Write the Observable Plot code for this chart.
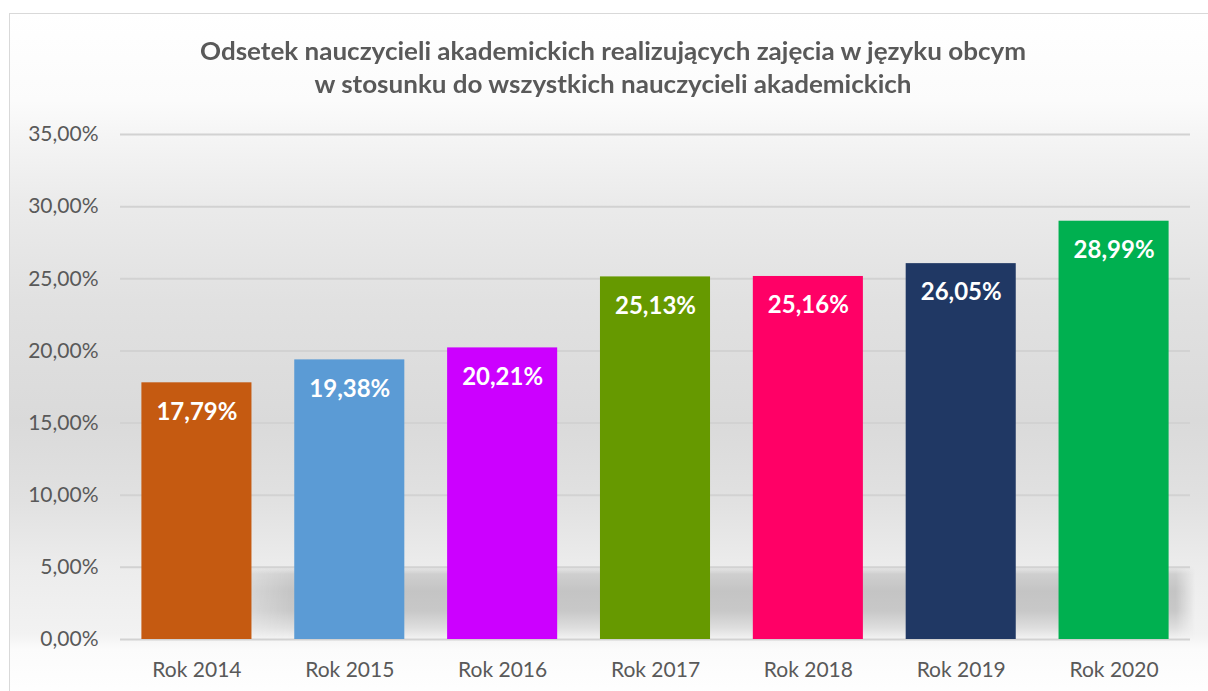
<!DOCTYPE html>
<html><head><meta charset="utf-8">
<script src="https://cdn.jsdelivr.net/npm/d3@7"></script>
<script src="https://cdn.jsdelivr.net/npm/@observablehq/plot@0.6"></script>
<style>
body{margin:0;background:#fff;}
#wrap{position:relative;width:1208px;height:691px;overflow:hidden;font-family:Lato,sans-serif;}
#bg{position:absolute;left:9px;top:13px;width:1230px;height:700px;border-left:1.5px solid #d9d9d9;border-top:1.5px solid #d9d9d9;
 background:linear-gradient(to bottom,#ffffff 0px,#fbfbfb 87px,#f5f5f5 121px,#ebebeb 187px,#e1e1e1 287px,#dadada 407px,#e1e1e1 487px,#ececec 552px,#f2f2f2 620px,#fbfbfb 635px,#ffffff 687px);}
#shadow{position:absolute;left:251px;top:566px;width:944px;height:73px;
 background:linear-gradient(to bottom,rgba(200,200,200,0) 0px,#cfcfcf 8px,#c4c4c4 25px,#c8c8c8 45px,#dedede 62px,#f3f3f3 73px);
 -webkit-mask-image:linear-gradient(to right,rgba(0,0,0,0.6) 0px,#000 40px,#000 925px,rgba(0,0,0,0) 944px);}
#title{position:absolute;left:0;top:34px;width:1226px;text-align:center;color:#595959;font-weight:bold;font-size:25px;line-height:33px;}
#title div{white-space:nowrap;}
#chart{position:absolute;left:0;top:0;}
</style></head>
<body>
<div id="wrap">
<div id="bg"></div>
<div id="shadow"></div>
<div id="title"></div>
<div id="chart"></div>
</div>
<script>
const titleLines = ["Odsetek nauczycieli akademickich realizujących zajęcia w języku obcym", "w stosunku do wszystkich nauczycieli akademickich"];
const years = ["Rok 2014","Rok 2015","Rok 2016","Rok 2017","Rok 2018","Rok 2019","Rok 2020"];
const values = [17.79, 19.38, 20.21, 25.13, 25.16, 26.05, 28.99];
const colors = ["#C55A11","#5B9BD5","#CC00FF","#669900","#FF0066","#203864","#00B050"];
const yTicks = [0,5,10,15,20,25,30,35];

const fmt = v => v.toFixed(2).replace(".", ",") + "%";
const data = years.map((y,i) => ({year: y, value: values[i], color: colors[i]}));

// title, fitted to the reference width
const tdiv = document.getElementById("title");
const ctx = document.createElement("canvas").getContext("2d");
ctx.font = "bold 25px Lato";
const sc = 827 / ctx.measureText(titleLines[0]).width;
titleLines.forEach(t => {
  const d = document.createElement("div");
  d.textContent = t;
  d.style.transform = `scaleX(${sc})`;
  tdiv.appendChild(d);
});

const chart = Plot.plot({
  width: 1208, height: 691,
  marginLeft: 120, marginRight: 18, marginTop: 134, marginBottom: 52,
  style: {background: "transparent", fontFamily: "Lato, sans-serif", color: "#595959"},
  x: {domain: years, paddingInner: 0.28, paddingOuter: 0.14, round: false, label: null},
  y: {domain: [0, 35], label: null},
  color: {type: "identity"},
  marks: [
    Plot.gridY(yTicks, {stroke: "#d2d2d2", strokeOpacity: 1, strokeWidth: 2}),
    Plot.barY(data, {x: "year", y: "value", fill: "color"}),
    Plot.text(data, {x: "year", y: "value", text: d => fmt(d.value), dy: 29, fill: "white", fontWeight: "bold", fontSize: 24}),
    Plot.axisY(yTicks, {tickSize: 0, tickPadding: 22, tickFormat: fmt, fontSize: 21, fill: "#595959", label: null}),
    Plot.axisX({tickSize: 0, tickPadding: 23, fontSize: 21, fill: "#595959", label: null})
  ]
});
document.getElementById("chart").appendChild(chart);
</script>
</body></html>
